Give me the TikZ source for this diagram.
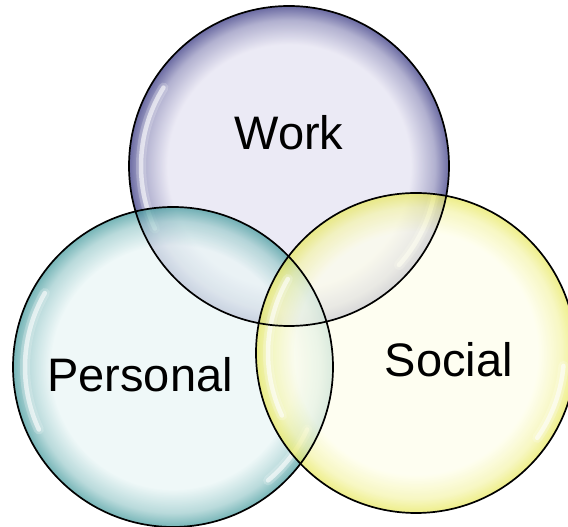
\documentclass[tikz,border=0pt]{standalone}
\usepackage{fontspec}
\setmainfont{Liberation Sans}

% glass bubble colours: light centre, darker rim
\definecolor{workin}{RGB}{228,226,241}
\definecolor{workout}{RGB}{55,55,130}
\definecolor{persin}{RGB}{234,246,246}
\definecolor{persout}{RGB}{70,155,158}
\definecolor{socin}{RGB}{254,254,236}
\definecolor{socout}{RGB}{232,232,95}

\pgfdeclareradialshading{workglass}{\pgfpoint{0bp}{0bp}}{color(0bp)=(workin); color(19bp)=(workin); color(22.8bp)=(workin!55!workout); color(25bp)=(workout); color(50bp)=(workout)}
\pgfdeclareradialshading{persglass}{\pgfpoint{0bp}{0bp}}{color(0bp)=(persin); color(19bp)=(persin); color(22.8bp)=(persin!55!persout); color(25bp)=(persout); color(50bp)=(persout)}
\pgfdeclareradialshading{socglass}{\pgfpoint{0bp}{0bp}}{color(0bp)=(socin); color(19bp)=(socin); color(22.8bp)=(socin!55!socout); color(25bp)=(socout); color(50bp)=(socout)}

\tikzset{
  bubble/.style={circle, inner sep=0pt, minimum size=320pt,
    fill opacity=0.74},
  rim/.style={draw=black, line width=1.7pt},
  shine/.style={draw=white, line width=4.5pt, opacity=0.6, line cap=round},
  glow/.style={draw=white, line width=10pt, opacity=0.2, line cap=round},
  lbl/.style={anchor=base, font=\fontsize{47}{50}\selectfont, text=black}
}

\newcommand{\gleam}[3]{%
  \draw[glow] (#1.center) ++(#2:148pt) arc[start angle=#2, end angle=#3, radius=148pt];
  \draw[shine] (#1.center) ++(#2:148pt) arc[start angle=#2, end angle=#3, radius=148pt];
}

\begin{document}
\begin{tikzpicture}[x=1pt,y=1pt]
  \useasboundingbox (0,0) rectangle (568,527);

  % Work
  \node[bubble, shading=workglass] (work) at (289,361) {};
  \gleam{work}{148}{205}
  \gleam{work}{-42}{-12}

  % Personal
  \node[bubble, shading=persglass] (personal) at (173,160) {};
  \gleam{personal}{150}{205}
  \gleam{personal}{-50}{-25}

  % Social
  \node[bubble, shading=socglass] (social) at (416,174) {};
  \gleam{social}{150}{205}
  \gleam{social}{-35}{-5}

  % outlines on top so every arc stays crisp
  \draw[rim] (work) circle[radius=160pt];
  \draw[rim] (personal) circle[radius=160pt];
  \draw[rim] (social) circle[radius=160pt];

  % labels
  \node[lbl] (worklbl) at (289,377) {Work};
  \node[lbl] (perslbl) at (140,135) {Personal};
  \node[lbl] (soclbl) at (449,150) {Social};
\end{tikzpicture}
\end{document}
